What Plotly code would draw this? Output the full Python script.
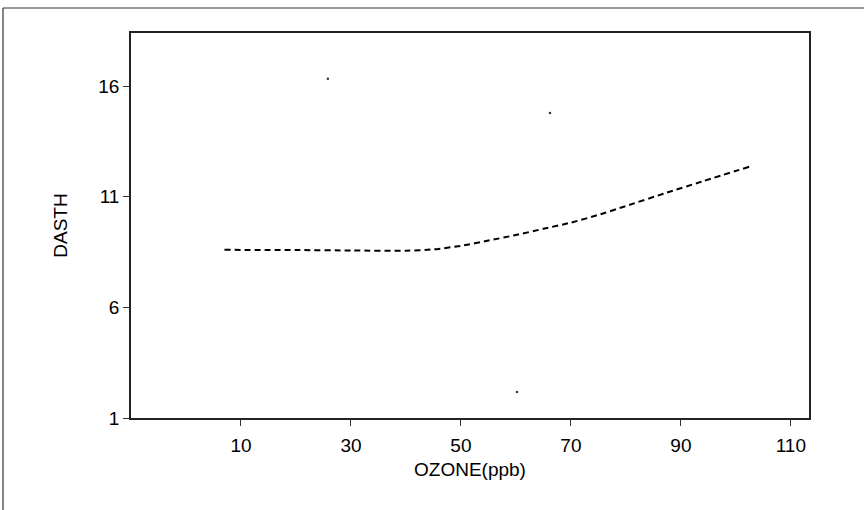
import plotly.graph_objects as go

# Smoothed curve
ozone = [7, 20, 30, 40, 45, 50, 55, 60, 65, 70, 75, 80, 87, 94, 102.5]
dasth = [8.6, 8.59, 8.57, 8.56, 8.62, 8.78, 9.02, 9.27, 9.55, 9.83, 10.18, 10.58, 11.15, 11.7, 12.36]

# Isolated specks / points seen in the picture
pt_ozone = [25.8, 66.2, 60.2]
pt_dasth = [16.33, 14.78, 2.18]

x_ticks = [10, 30, 50, 70, 90, 110]
y_ticks = [1, 6, 11, 16]

FONT = "Liberation Sans, Arial, Helvetica, sans-serif"

fig = go.Figure()
fig.add_trace(go.Scatter(
    x=ozone, y=dasth, mode="lines", line_shape="spline",
    line=dict(color="black", width=2, dash="6px,4px", smoothing=0.6),
    showlegend=False, hoverinfo="skip"))
fig.add_trace(go.Scatter(
    x=pt_ozone, y=pt_dasth, mode="markers",
    marker=dict(color="#333333", size=2.5),
    showlegend=False, hoverinfo="skip"))

axis_common = dict(
    showgrid=False, zeroline=False, showline=True, mirror=True,
    linecolor="#222222", linewidth=1.5, ticks="outside", ticklen=6,
    tickwidth=1.2, tickcolor="#333333",
    tickfont=dict(family=FONT, size=19, color="black"),
)

fig.update_layout(
    width=864, height=510,
    margin=dict(l=131, r=55, t=33, b=92),
    paper_bgcolor="white", plot_bgcolor="white",
    font=dict(family=FONT, size=19, color="black"),
    xaxis=dict(range=[-10, 113.3], tickvals=x_ticks, ticklabelstandoff=3,
               title=dict(text="OZONE(ppb)", font=dict(family=FONT, size=19), standoff=8),
               **axis_common),
    yaxis=dict(range=[1, 18.4], tickvals=y_ticks,
               title=dict(text="DASTH", font=dict(family=FONT, size=19), standoff=26),
               **axis_common),
    shapes=[
        dict(type="line", xref="paper", yref="paper", x0=-0.1888, x1=1.09,
             y0=1.065, y1=1.065, line=dict(color="#333333", width=1.2)),
        dict(type="line", xref="paper", yref="paper", x0=-0.1888, x1=-0.1888,
             y0=1.065, y1=-0.25, line=dict(color="#333333", width=1.2)),
    ],
)

fig.write_html("out.html", config={"displayModeBar": False},
               post_script="document.body.style.margin='0';window.dispatchEvent(new Event('resize'));")
